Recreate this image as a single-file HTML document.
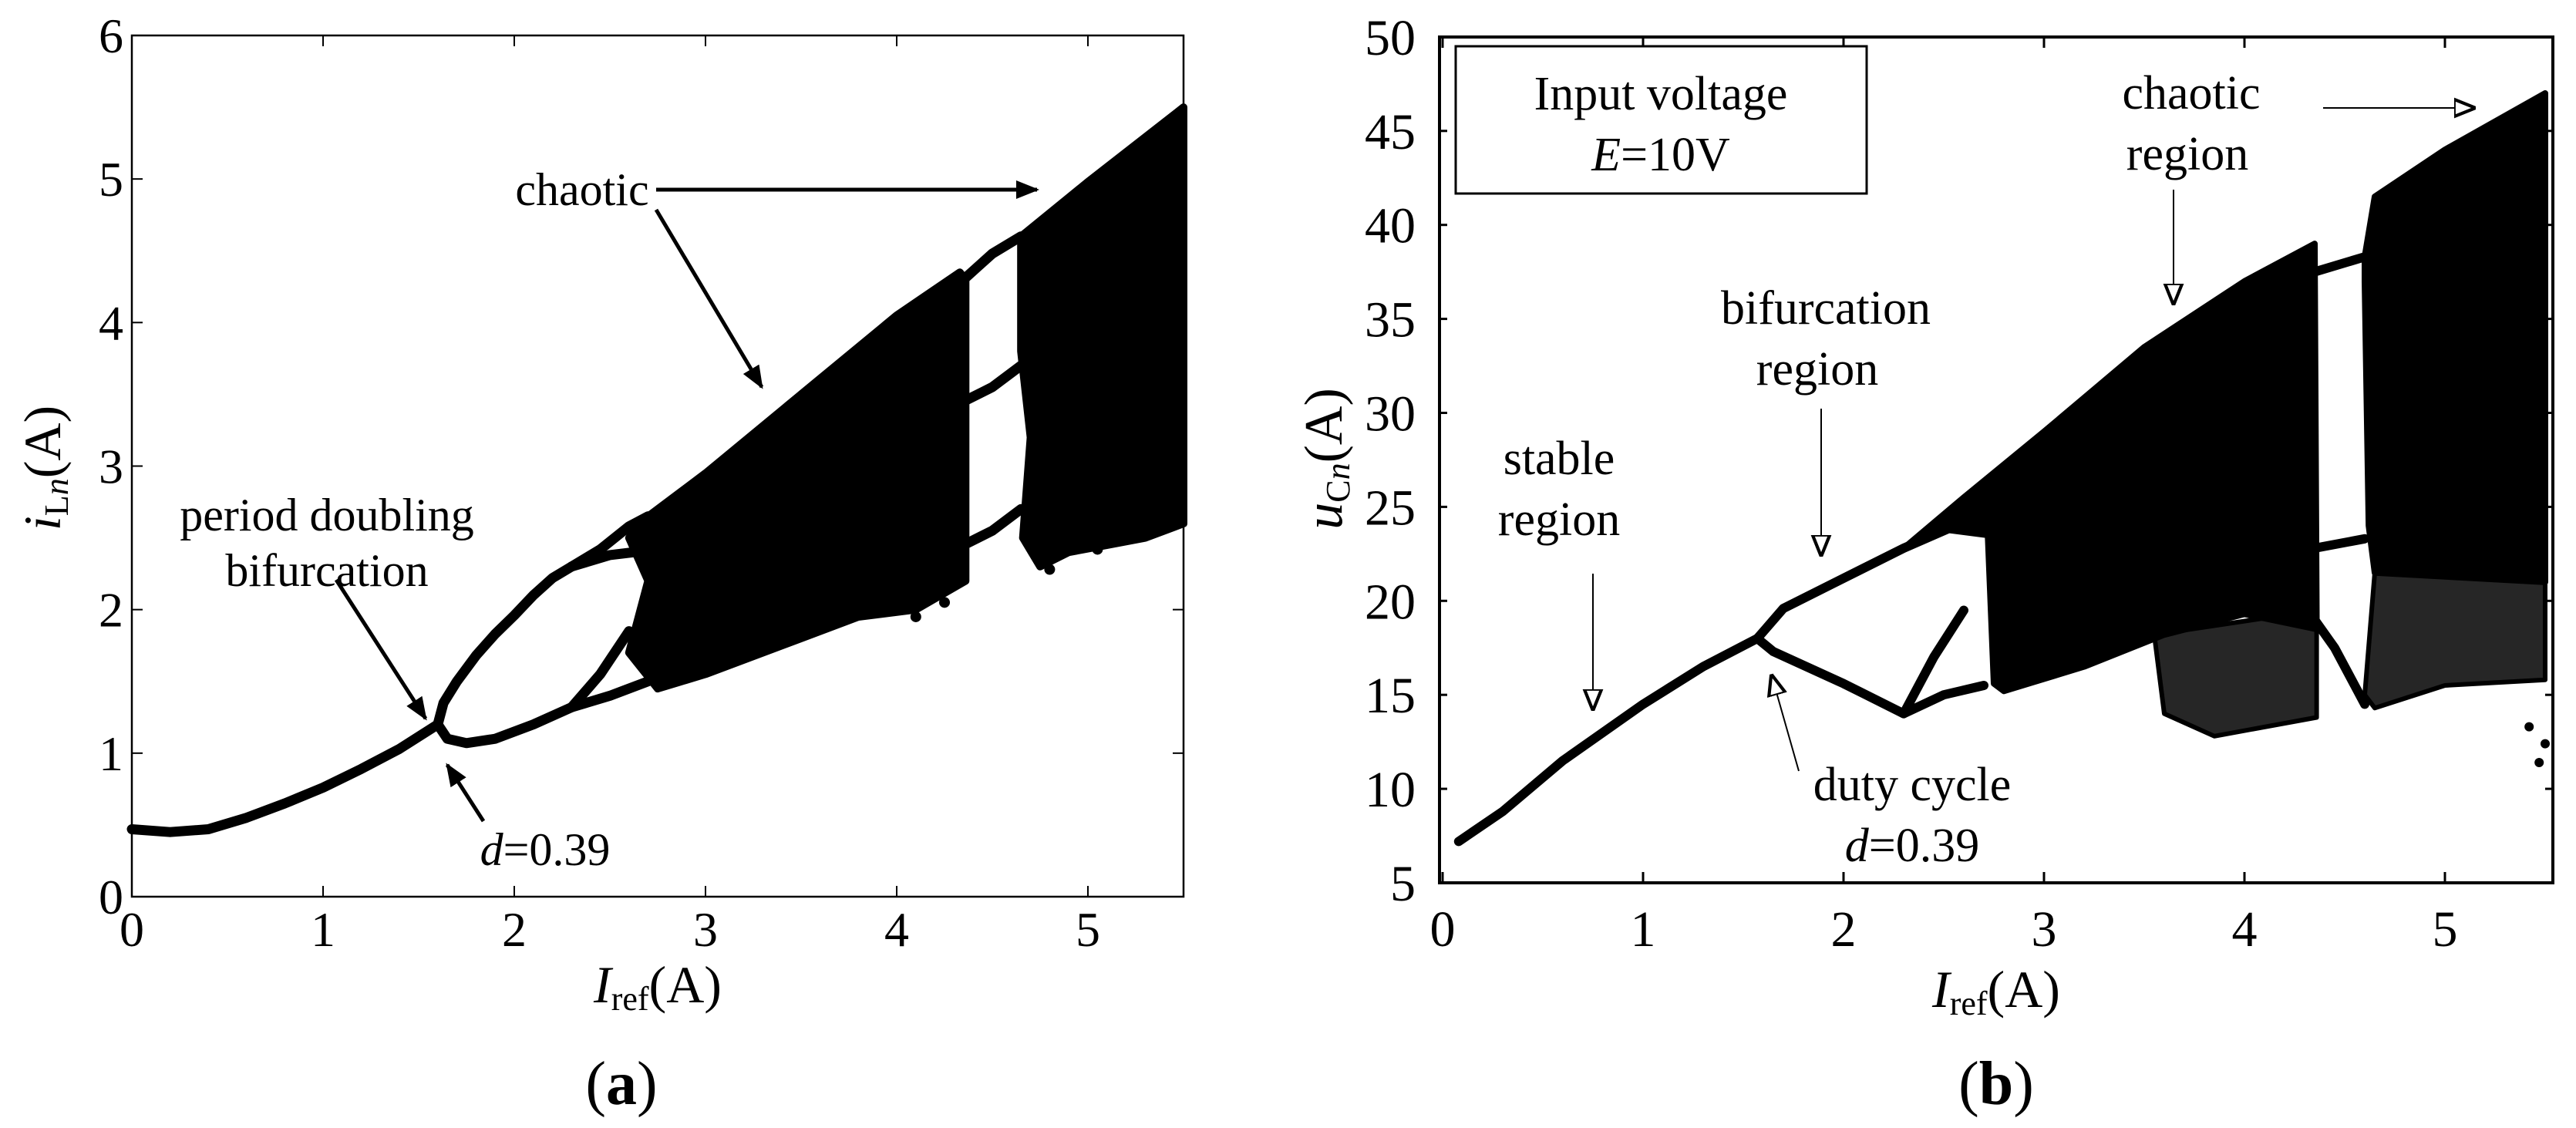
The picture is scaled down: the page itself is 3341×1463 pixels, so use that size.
<!DOCTYPE html>
<html><head><meta charset="utf-8"><style>
html,body{margin:0;padding:0;background:#fff;}
svg{display:block;}
svg text{font-family:"Liberation Serif","DejaVu Serif",serif !important;fill:#000;}
</style></head><body>
<svg id="fig" width="3341" height="1463" viewBox="0 0 3341 1463" xmlns="http://www.w3.org/2000/svg" font-family="Liberation Serif, serif">
<defs>
<marker id="ah" viewBox="0 0 10 10" refX="9" refY="5" markerWidth="6" markerHeight="6" orient="auto"><path d="M0,1 L10,5 L0,9 Z" fill="#000"/></marker>
<marker id="ahb" viewBox="0 0 10 10" refX="9" refY="5" markerWidth="14" markerHeight="14" orient="auto"><path d="M0,1 L10,5 L0,9 Z" fill="#fff" stroke="#000" stroke-width="1.5"/></marker>
</defs>
<g id="pa"></g>
<g id="pb"></g>
</svg>
<script>
// ---- Panel (a) data: i_Ln vs I_ref ----
const aXTicks = [0,1,2,3,4,5];
const aYTicks = [0,1,2,3,4,5,6];
const aPeriod1 = [[0,0.47],[0.2,0.45],[0.4,0.47],[0.6,0.55],[0.8,0.65],[1.0,0.76],[1.2,0.89],[1.4,1.03],[1.6,1.2]];
const aUpper = [[1.6,1.2],[1.63,1.35],[1.7,1.5],[1.8,1.68],[1.9,1.83],[2.0,1.96],[2.1,2.1],[2.2,2.22],[2.3,2.3]];
const aUpperA = [[2.3,2.3],[2.45,2.42],[2.6,2.58],[2.7,2.65]];
const aUpperB = [[2.3,2.3],[2.5,2.38],[2.75,2.42]];
const aLower = [[1.6,1.2],[1.65,1.1],[1.75,1.07],[1.9,1.1],[2.1,1.2],[2.3,1.32]];
const aLowerA = [[2.3,1.32],[2.45,1.55],[2.6,1.85]];
const aLowerB = [[2.3,1.32],[2.5,1.4],[2.7,1.5]];
const aBand1 = [[2.65,2.6],[3.0,2.95],[3.5,3.5],[4.0,4.05],[4.33,4.35],[4.36,4.3],[4.36,2.2],[4.1,2.0],[3.8,1.95],[3.5,1.8],[3.0,1.55],[2.75,1.45],[2.6,1.7],[2.7,2.2],[2.6,2.5]];
const aWinTop = [[4.35,4.3],[4.5,4.48],[4.65,4.6]];
const aWinMid = [[4.35,3.45],[4.5,3.55],[4.65,3.7]];
const aWinBot = [[4.35,2.45],[4.5,2.55],[4.65,2.7]];
const aBand2 = [[4.65,4.6],[5.0,4.98],[5.5,5.5],[5.5,2.6],[5.3,2.5],[5.1,2.45],[4.9,2.4],[4.75,2.3],[4.66,2.5],[4.7,3.2],[4.65,3.8]];
const aDots = [[4.8,2.28],[4.72,2.45],[5.05,2.42],[5.25,2.5],[5.45,2.62],[4.1,1.95],[3.9,1.98],[4.25,2.05],[2.8,2.4]];
// ---- Panel (b) data: u_Cn vs I_ref ----
const bXTicks = [0,1,2,3,4,5];
const bYTicks = [5,10,15,20,25,30,35,40,45,50];
const bStable = [[0.08,7.2],[0.3,8.8],[0.6,11.5],[1.0,14.5],[1.3,16.5],[1.57,18]];
const bUpper = [[1.57,18],[1.7,19.6],[2.0,21.2],[2.3,22.8],[2.6,24.2],[2.75,24.4]];
const bLower = [[1.57,18],[1.65,17.3],[2.0,15.6],[2.3,14.0],[2.5,15.0],[2.7,15.5]];
const bLowerA = [[2.3,14.0],[2.45,17.0],[2.6,19.5]];
const bBand1 = [[2.3,22.8],[2.6,25.5],[3.0,29],[3.5,33.5],[4.0,37],[4.35,39],[4.36,18.5],[4.0,19.3],[3.6,18.2],[3.2,16.5],[2.8,15.2],[2.75,15.6],[2.72,23.5],[2.5,23.8]];
const bSparse1 = [[3.55,18.2],[4.36,19.5],[4.36,13.8],[3.85,12.8],[3.6,14]];
const bWinTop = [[4.35,37.5],[4.6,38.3]];
const bWinMid = [[4.35,22.8],[4.6,23.3]];
const bWinBot = [[4.35,19],[4.45,17.5],[4.6,14.5]];
const bBand2 = [[4.6,38.3],[4.65,41.5],[5.0,44],[5.5,47],[5.5,21],[4.65,21.5],[4.62,24],[4.6,37]];
const bSparse2 = [[4.65,21.5],[5.5,21],[5.5,15.8],[5.0,15.5],[4.65,14.3],[4.6,15]];
const bDots = [[5.42,13.3],[5.5,12.4],[5.47,11.4]];

const NS = "http://www.w3.org/2000/svg";
const FF = "Liberation Serif, DejaVu Serif, serif";
function mk(parent, tag, attrs, txt){
  const e = document.createElementNS(NS, tag);
  for (const k in attrs) e.setAttribute(k, attrs[k]);
  if (tag === 'text') e.setAttribute('font-family', FF);
  if (txt !== undefined) e.textContent = txt;
  parent.appendChild(e);
  return e;
}
const A = {x0:171, ux:248, y0:1163, uy:186.17, l:171, r:1535, t:46, b:1163};
const B = {x0:1871, ux:260, y0:1145, yb:5, uy:24.38, l:1867, r:3311, t:48, b:1145};
const xA = v => A.x0 + v*A.ux, yA = v => A.y0 - v*A.uy;
const xB = v => B.x0 + v*B.ux, yB = v => B.y0 - (v-B.yb)*B.uy;
function pts(arr, fx, fy){ return arr.map(p => fx(p[0]).toFixed(1)+","+fy(p[1]).toFixed(1)).join(" "); }

const pa = document.getElementById('pa');
const pb = document.getElementById('pb');

// ----- Panel a -----
let frameA = mk(pa,'rect',{x:A.l,y:A.t,width:A.r-A.l,height:A.b-A.t,fill:'none',stroke:'#000','stroke-width':2.5});


aXTicks.forEach(v=>{
  const t = mk(pa,'line',{x1:xA(v),x2:xA(v),y1:A.b,y2:A.b-14,stroke:'#000','stroke-width':2});
  
  
  mk(pa,'line',{x1:xA(v),x2:xA(v),y1:A.t,y2:A.t+14,stroke:'#000','stroke-width':2});
  const l = mk(pa,'text',{x:xA(v),y:1227,'font-size':64,'text-anchor':'middle'},String(v));
  
  
});
aYTicks.forEach(v=>{
  const t = mk(pa,'line',{x1:A.l,x2:A.l+14,y1:yA(v),y2:yA(v),stroke:'#000','stroke-width':2});
  
  
  mk(pa,'line',{x1:A.r,x2:A.r-14,y1:yA(v),y2:yA(v),stroke:'#000','stroke-width':2});
  const l = mk(pa,'text',{x:160,y:yA(v)+22,'font-size':64,'text-anchor':'end'},String(v));
  
  
});
[[aBand1,'chaotic-band-1'],[aBand2,'chaotic-band-2']].forEach(([d,n])=>{
  const p = mk(pa,'polygon',{points:pts(d,xA,yA),fill:'#000',stroke:'#000','stroke-width':10,'stroke-linejoin':'round'});
  
  
});
[[aPeriod1,'period-1-branch'],[aUpper,'upper-branch'],[aUpperA,'upper-branch-a'],[aUpperB,'upper-branch-b'],[aLower,'lower-branch'],[aLowerA,'lower-branch-a'],[aLowerB,'lower-branch-b'],[aWinTop,'window-top'],[aWinMid,'window-mid'],[aWinBot,'window-bottom']].forEach(([d,n])=>{
  const p = mk(pa,'polyline',{points:pts(d,xA,yA),fill:'none',stroke:'#000','stroke-width':13,'stroke-linejoin':'round','stroke-linecap':'round'});
  
  
});
aDots.forEach(d=>{
  const c = mk(pa,'circle',{cx:xA(d[0]),cy:yA(d[1]),r:7,fill:'#000'});
  
  
});
function arrowA(x1,y1,x2,y2,name){
  const l = mk(pa,'line',{x1,y1,x2,y2,stroke:'#000','stroke-width':5,'marker-end':'url(#ah)'});
  
  
}
let t;
t = mk(pa,'text',{x:755,y:266,'font-size':60,'text-anchor':'middle'},'chaotic');


arrowA(851,246,1345,246,'chaotic-arrow-right');
arrowA(851,272,988,502,'chaotic-arrow-down');
t = mk(pa,'text',{x:424,y:688,'font-size':60,'text-anchor':'middle'},'period doubling');


t = mk(pa,'text',{x:424,y:760,'font-size':60,'text-anchor':'middle'},'bifurcation');


arrowA(436,752,552,932,'bifurcation-arrow-a');
arrowA(627,1065,580,992,'d-arrow-a');
t = mk(pa,'text',{x:707,y:1122,'font-size':60,'text-anchor':'middle'});


t.innerHTML = '<tspan font-style="italic">d</tspan>=0.39';
t = mk(pa,'text',{x:853,y:1300,'font-size':68,'text-anchor':'middle'});


t.innerHTML = '<tspan font-style="italic">I</tspan><tspan font-size="44" dy="10">ref</tspan><tspan dy="-10">(A)</tspan>';
t = mk(pa,'text',{x:0,y:0,'font-size':68,'text-anchor':'middle',transform:'translate(78,607) rotate(-90)'});


t.innerHTML = '<tspan font-style="italic">i</tspan><tspan font-size="44" dy="10">L<tspan font-style="italic">n</tspan></tspan><tspan dy="-10">(A)</tspan>';
t = mk(pa,'text',{x:806,y:1432,'font-size':80,'text-anchor':'middle'});


t.innerHTML = '(<tspan font-weight="bold">a</tspan>)';

// ----- Panel b -----
let frameB = mk(pb,'rect',{x:B.l,y:B.t,width:B.r-B.l,height:B.b-B.t,fill:'none',stroke:'#000','stroke-width':4});


bXTicks.forEach(v=>{
  const tk = mk(pb,'line',{x1:xB(v),x2:xB(v),y1:B.b,y2:B.b-14,stroke:'#000','stroke-width':3});
  
  
  mk(pb,'line',{x1:xB(v),x2:xB(v),y1:B.t,y2:B.t+14,stroke:'#000','stroke-width':3});
  const l = mk(pb,'text',{x:xB(v),y:1227,'font-size':66,'text-anchor':'middle'},String(v));
  
  
});
bYTicks.forEach(v=>{
  const tk = mk(pb,'line',{x1:B.l,x2:B.l+10,y1:yB(v),y2:yB(v),stroke:'#000','stroke-width':3});
  
  
  mk(pb,'line',{x1:B.r,x2:B.r-10,y1:yB(v),y2:yB(v),stroke:'#000','stroke-width':3});
  const l = mk(pb,'text',{x:1836,y:yB(v)+23,'font-size':66,'text-anchor':'end'},String(v));
  
  
});
[[bSparse1,'sparse-region-1'],[bSparse2,'sparse-region-2']].forEach(([d,n])=>{
  const p = mk(pb,'polygon',{points:pts(d,xB,yB),fill:'#000','fill-opacity':0.85,stroke:'#000','stroke-width':6,'stroke-linejoin':'round'});
  
  
});
[[bBand1,'chaotic-band-b1'],[bBand2,'chaotic-band-b2']].forEach(([d,n])=>{
  const p = mk(pb,'polygon',{points:pts(d,xB,yB),fill:'#000',stroke:'#000','stroke-width':8,'stroke-linejoin':'round'});
  
  
});
[[bStable,'stable-branch'],[bUpper,'upper-branch-b'],[bLower,'lower-branch-b'],[bLowerA,'lower-branch-b2'],[bWinTop,'window-top-b'],[bWinMid,'window-mid-b'],[bWinBot,'window-bottom-b']].forEach(([d,n])=>{
  const p = mk(pb,'polyline',{points:pts(d,xB,yB),fill:'none',stroke:'#000','stroke-width':12,'stroke-linejoin':'round','stroke-linecap':'round'});
  
  
});
bDots.forEach(d=>{
  const c = mk(pb,'circle',{cx:xB(d[0]),cy:yB(d[1]),r:6,fill:'#000'});
  
  
});
const lg = mk(pb,'rect',{x:1888,y:60,width:533,height:191,fill:'#fff',stroke:'#000','stroke-width':3});


t = mk(pb,'text',{x:2154,y:142,'font-size':62,'text-anchor':'middle'},'Input voltage');


t = mk(pb,'text',{x:2154,y:221,'font-size':62,'text-anchor':'middle'});


t.innerHTML = '<tspan font-style="italic">E</tspan>=10V';
function arrowB(x1,y1,x2,y2,name){
  const l = mk(pb,'line',{x1,y1,x2,y2,stroke:'#000','stroke-width':2,'marker-end':'url(#ahb)'});
  
  
}
function labelB(x,y,s,name){
  const e = mk(pb,'text',{x,y,'font-size':62,'text-anchor':'middle'},s);
  
  
  return e;
}
labelB(2842,141,'chaotic','chaotic-label-b');
labelB(2837,220,'region','chaotic-region-label-b');
arrowB(3013,140,3208,140,'chaotic-arrow-right-b');
arrowB(2819,246,2819,393,'chaotic-arrow-down-b');
labelB(2368,420,'bifurcation','bifurcation-label-b');
labelB(2357,499,'region','bifurcation-region-label-b');
arrowB(2362,530,2362,719,'bifurcation-arrow-b');
labelB(2022,615,'stable','stable-label');
labelB(2022,694,'region','stable-region-label');
arrowB(2066,744,2066,919,'stable-arrow');
labelB(2480,1038,'duty cycle','duty-cycle-label');
t = labelB(2480,1117,'','d-value-label-b');
t.innerHTML = '<tspan font-style="italic">d</tspan>=0.39';
arrowB(2333,1000,2298,877,'duty-cycle-arrow');
t = mk(pb,'text',{x:2589,y:1306,'font-size':68,'text-anchor':'middle'});


t.innerHTML = '<tspan font-style="italic">I</tspan><tspan font-size="44" dy="10">ref</tspan><tspan dy="-10">(A)</tspan>';
t = mk(pb,'text',{x:0,y:0,'font-size':70,'text-anchor':'middle',transform:'translate(1740,595) rotate(-90)'});


t.innerHTML = '<tspan font-style="italic">u</tspan><tspan font-size="44" dy="10">C<tspan font-style="italic">n</tspan></tspan><tspan dy="-10">(A)</tspan>';
t = mk(pb,'text',{x:2589,y:1432,'font-size':80,'text-anchor':'middle'});


t.innerHTML = '(<tspan font-weight="bold">b</tspan>)';
</script>
</body></html>
